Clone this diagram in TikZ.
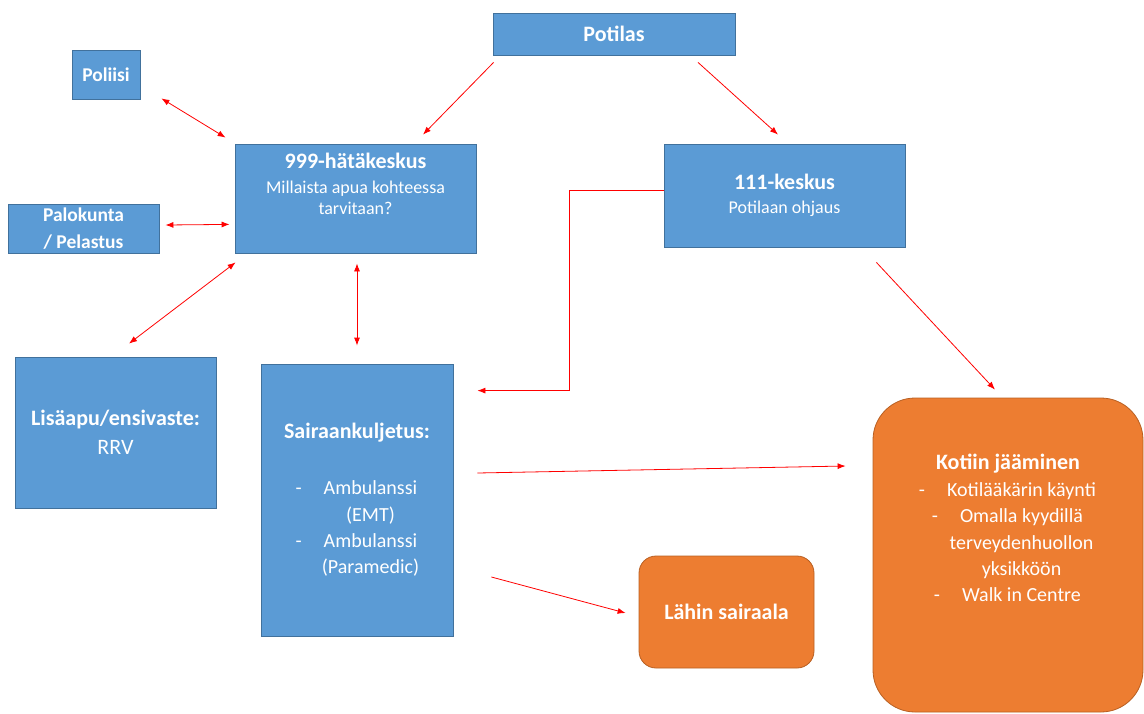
\documentclass[tikz,border=0pt]{standalone}
\usepackage{fontspec}
\setmainfont{Carlito}
\usetikzlibrary{arrows.meta}

\definecolor{boxblue}{HTML}{5B9BD5}
\definecolor{boxedge}{HTML}{41719C}
\definecolor{boxorange}{HTML}{ED7D31}
\definecolor{orangeedge}{HTML}{B85F22}

% list line with hanging dash, and its continuation line
\newcommand{\kohta}[1]{\hspace*{27pt}\llap{-\hspace*{22pt}}#1}
\newcommand{\jatko}[1]{\hspace*{27pt}#1}

\begin{document}
\begin{tikzpicture}[x=1pt, y=-1pt, >={Latex[length=8pt,width=6pt]},
    blue box/.style={draw=boxedge, fill=boxblue, text=white, inner sep=0pt, align=center, line width=0.8pt},
    orange box/.style={draw=orangeedge, fill=boxorange, text=white, inner sep=0pt, align=center, line width=0.8pt},
    box text/.style={text=white, inner sep=0pt, align=center, anchor=north},
    pil/.style={red, line width=0.8pt}]

        \useasboundingbox (0,0) rectangle (1144,713);

        % top row
        \node[blue box, minimum width=242pt, minimum height=42pt, font=\fontsize{22}{26}\selectfont\bfseries] (pot) at (614,34) {Potilas};
        \node[blue box, minimum width=68pt, minimum height=49pt, font=\fontsize{19.5}{26.6}\selectfont\bfseries] (pol) at (106,74.5) {Poliisi};
        \node[blue box, minimum width=151pt, minimum height=49pt, font=\fontsize{19.5}{26.6}\selectfont\bfseries] (pal) at (83.5,228.5) {Palokunta\\/ Pelastus};

        % centres
        \node[blue box, minimum width=241pt, minimum height=109pt,
            label={[box text, name=hkteksti, yshift=-9pt, font=\fontsize{18}{21.5}\selectfont]north:{{\fontsize{22}{26}\selectfont\bfseries 999-hätäkeskus}\\[3.5pt]Millaista apua kohteessa\\tarvitaan?}}] (hk) at (355.5,198.5) {};
        \node[blue box, minimum width=241pt, minimum height=103pt, font=\fontsize{18}{21.5}\selectfont] (k111) at (784.5,195.5) {{\fontsize{22}{26}\selectfont\bfseries 111-keskus}\\[2.5pt]Potilaan ohjaus};

        % units
        \node[blue box, minimum width=201pt, minimum height=151pt, font=\fontsize{22}{26}\selectfont] (lisa) at (115.5,432.5) {\textbf{Lisäapu/ensivaste:}\\[3pt]RRV};
        \node[blue box, minimum width=192pt, minimum height=272pt, font=\fontsize{20}{26.4}\selectfont] (sk) at (357,500) {{\fontsize{22}{26}\selectfont\bfseries Sairaankuljetus:}\\[29.6pt]\kohta{Ambulanssi}\\\jatko{(EMT)}\\\kohta{Ambulanssi}\\\jatko{(Paramedic)}};

        % outcomes
        \node[orange box, rounded corners=17pt, minimum width=175pt, minimum height=112pt, font=\fontsize{22}{26}\selectfont\bfseries] (lahin) at (726.5,612) {Lähin sairaala};
        \node[orange box, rounded corners=42pt, minimum width=270pt, minimum height=314pt,
            label={[box text, name=kotiteksti, yshift=-56pt, font=\fontsize{20}{26.4}\selectfont]north:{{\fontsize{22}{26}\selectfont\bfseries Kotiin jääminen}\\[0.6pt]\kohta{Kotilääkärin käynti}\\\kohta{Omalla kyydillä}\\\jatko{terveydenhuollon}\\\jatko{yksikköön}\\\kohta{Walk in Centre}}}] (koti) at (1008,555) {};

        % potilas
        \draw[pil, ->] ([xshift=1pt,yshift=-7pt]pot.south west) -- ([xshift=67.5pt,yshift=9pt]hk.north);
        \draw[pil, ->] ([xshift=84pt,yshift=-7pt]pot.south) -- ([xshift=-6.5pt,yshift=9pt]k111.north);

        % 999 links
        \draw[pil, <->] ([xshift=21pt,yshift=1pt]pol.south east) -- ([xshift=-9pt,yshift=6pt]hk.north west);
        \draw[pil, <->] ([xshift=6pt,yshift=3.5pt]pal.east) -- ([xshift=-5pt,yshift=29pt]hk.south west);
        \draw[pil, <->] ([xshift=1pt,yshift=-9pt]hk.south west) -- ([xshift=13.5pt,yshift=13pt]lisa.north);
        \draw[pil, <->] ([xshift=1.5pt,yshift=-10pt]hk.south) -- ([yshift=18pt]sk.north);

        % 111 links
        \draw[pil, ->] ([yshift=5.5pt]k111.west) -- ++(-94,0) |- ([xshift=24pt,yshift=-27pt]sk.north east);
        \draw[pil, ->] ([xshift=-29pt,yshift=-15pt]k111.south east) -- ([xshift=-13pt,yshift=8pt]koti.north);

        % ambulance outcomes
        \draw[pil, ->] ([xshift=24pt,yshift=27pt]sk.east) -- ([xshift=-27pt,yshift=89pt]koti.west);
        \draw[pil, ->] ([xshift=38pt,yshift=-77pt]sk.east) -- ([xshift=-13pt,yshift=-1pt]lahin.west);
\end{tikzpicture}
\end{document}
